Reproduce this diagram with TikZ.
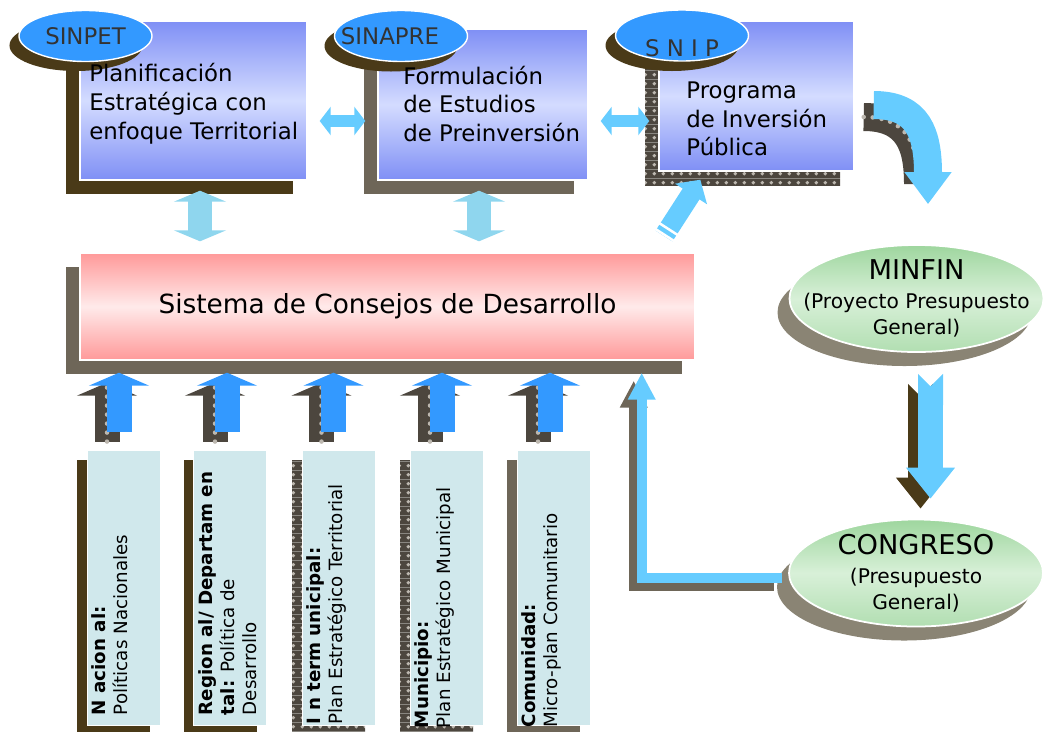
\documentclass[tikz,border=0pt]{standalone}
\usepackage{fontspec}
\setmainfont{DejaVu Sans}
\usetikzlibrary{arrows.meta,shapes.geometric,shadows,patterns,calc}

\definecolor{boxblue}{HTML}{7F8FF5}
\definecolor{boxlight}{HTML}{D4DCFF}
\definecolor{ovalblue}{HTML}{3399FF}
\definecolor{shbrown}{HTML}{4A3A18}
\definecolor{shgray}{HTML}{6E6658}
\definecolor{shdark}{HTML}{4C463E}
\definecolor{shdot}{HTML}{BDB8B0}
\definecolor{pinkedge}{HTML}{FF9999}
\definecolor{pinklight}{HTML}{FFEAEA}
\definecolor{skyarrow}{HTML}{66CCFF}
\definecolor{paleblue}{HTML}{8FD6EE}
\definecolor{upblue}{HTML}{3399FF}
\definecolor{greentop}{HTML}{9ED69E}
\definecolor{greenmid}{HTML}{D8F0D8}
\definecolor{ovalshadow}{HTML}{8A8474}
\definecolor{levelcyan}{HTML}{D0E8EC}

% dotted dark tile for the checkered shadows
\pgfdeclarepatterninherentlycolored{chkdots}
  {\pgfpointorigin}{\pgfqpoint{5pt}{5pt}}{\pgfqpoint{5pt}{5pt}}
  {\pgfsetfillcolor{shdark}\pgfpathrectangle{\pgfpointorigin}{\pgfqpoint{5pt}{5pt}}\pgfusepath{fill}
   \pgfsetfillcolor{shdot}\pgfpathcircle{\pgfqpoint{2.5pt}{2.5pt}}{1.1pt}\pgfusepath{fill}}

\begin{document}
\begin{tikzpicture}[
            x=0.2mm, y=-0.2mm,
            shadowbrown/.style={general shadow={fill=shbrown, shadow xshift=-#1, shadow yshift=-#1}},
            shadowbrown/.default=2.8mm,
            shadowgray/.style={general shadow={fill=shgray, shadow xshift=-#1, shadow yshift=-#1}},
            shadowgray/.default=2.8mm,
            shadowdots/.style={general shadow={pattern=chkdots, shadow xshift=-#1, shadow yshift=-#1}},
            shadowdots/.default=2.8mm,
            planbox/.style={
                rectangle,
                draw=white,
                line width=0.8pt,
                top color=boxblue,
                bottom color=boxblue,
                middle color=boxlight,
                inner sep=0pt
            },
            boxtext/.style={
                anchor=west,
                align=left,
                inner sep=0pt,
                font=\fontsize{13}{16.4}\selectfont
            },
            oval/.style={
                ellipse,
                draw=white,
                line width=0.8pt,
                fill=ovalblue,
                minimum width=26.6mm,
                minimum height=10.2mm,
                inner sep=0pt,
                text=black!80,
                font=\fontsize{13}{15}\selectfont
            },
            consbox/.style={
                rectangle,
                draw=white,
                line width=0.8pt,
                top color=pinkedge,
                bottom color=pinkedge,
                middle color=pinklight,
                font=\fontsize{15}{18}\selectfont
            },
            budget/.style={
                ellipse,
                draw=white,
                line width=1pt,
                top color=greentop,
                bottom color=greentop!80!white,
                middle color=greenmid,
                minimum width=50.8mm,
                minimum height=21.4mm,
                inner xsep=-6mm,
                inner ysep=-2mm,
                align=center,
                font=\fontsize{11.5}{15}\selectfont,
                general shadow={fill=ovalshadow, shadow xshift=-2.4mm, shadow yshift=-2.8mm}
            },
            levelbox/.style={
                rectangle,
                draw=white,
                line width=0.5pt,
                fill=levelcyan,
                minimum width=14.6mm,
                minimum height=55mm,
                inner sep=0pt
            },
            leveltext/.style={
                rotate=90,
                anchor=north west,
                align=left,
                inner sep=0pt,
                font=\fontsize{10.4}{12.5}\selectfont
            },
            hdouble/.style={draw=skyarrow, line width=2.4mm,
                {Triangle[length=2.2mm,width=5.6mm]}-{Triangle[length=2.2mm,width=5.6mm]}},
            vdouble/.style={draw=paleblue, line width=4.8mm,
                {Triangle[length=2.2mm,width=10.4mm]}-{Triangle[length=2.2mm,width=10.4mm]}},
            uparrow/.style={draw=upblue, line width=5mm, -{Triangle[length=2.6mm,width=12mm]}},
            dotline/.style={draw=shdark, postaction={-, draw=shdot, line width=0.9mm,
                line cap=round, dash pattern=on 0pt off 1.8mm}},
            sky/.style={draw=skyarrow}
        ]
        \useasboundingbox (0,0) rectangle (1044,731);

        % Planning boxes
        \node[planbox, shadowbrown, minimum width=45.4mm, minimum height=31.8mm] (p1) at (193.5,100.5) {};
        \node[planbox, shadowgray, minimum width=42mm, minimum height=30.2mm] (p2) at (483,104.5) {};
        \node[planbox, shadowdots, minimum width=39mm, minimum height=30mm] (p3) at (756.5,96) {};

        % Council box
        \node[consbox, shadowgray=2.7mm, minimum width=123mm, minimum height=21.4mm] (cons) at (387.5,306.5) {Sistema de Consejos de Desarrollo};

        % System ovals
        \node[oval, shadowbrown=1.9mm] (o1) at (85.5,36) {SINPET};
        \node[oval, shadowbrown=2mm] (o2) at (401,36) {\hspace*{-4.4mm}SINAPRE};
        \node[oval, shadowbrown=2mm] (o3) at (682,35.5) {\raisebox{-2.6mm}[\height][0pt]{S N I P}};

        % Box texts
        \node[boxtext] (t1) at (89,104) {Planificación\\Estratégica con\\enfoque Territorial};
        \node[boxtext] (t2) at (403,104) {Formulación\\de Estudios\\de Preinversión};
        \node[boxtext] (t3) at (686,119) {Programa\\de Inversión\\Pública};

        % Arrows between the boxes
        \draw[hdouble, shorten <=2.4mm, shorten >=2.4mm] ([yshift=-4.1mm]p1.east) -- ([yshift=-4.1mm]p1.east -| p2.west);
        \draw[hdouble, shorten <=2.4mm, shorten >=1.8mm] ([yshift=-3.3mm]p2.east) -- ([yshift=-3.3mm]p2.east -| p3.west);
        \draw[vdouble, shorten <=2mm, shorten >=2.2mm] ([xshift=1.3mm]p1.south) -- ([xshift=1.3mm]p1.south |- cons.north);
        \draw[vdouble, shorten <=2mm, shorten >=2.2mm] ([xshift=-0.8mm]p2.south) -- ([xshift=-0.8mm]p2.south |- cons.north);

        % Council to SNIP
        \coordinate (dtail) at (664,236);
        \draw[sky, line width=4mm, -{Triangle[length=3.4mm,width=7.4mm]}] (dtail) -- ([xshift=8.4mm,yshift=-1.6mm]p3.south west);
        \draw[white, line width=4.4mm, dash pattern=on 0.5mm off 0.9mm on 0.5mm off 30cm] (dtail) -- ([xshift=8.4mm,yshift=-1.6mm]p3.south west);

        % Budget ovals
        \node[budget] (minfin) at (916.5,298.5) {{\fontsize{15.5}{18}\selectfont MINFIN}\\[1.5pt](Proyecto Presupuesto\\General)};
        \node[budget] (congreso) at (916,573) {{\fontsize{15.5}{18}\selectfont CONGRESO}\\[1.5pt](Presupuesto\\General)};

        % SNIP to MINFIN
        \draw[dotline, line width=5.6mm, transform canvas={shift={(-2mm,-2.4mm)}}, shorten >=6.4mm]
            ([xshift=3.8mm,yshift=-1.8mm]p3.east) .. controls +(9mm,0) and +(0,14mm) .. ([xshift=2.3mm,yshift=8mm]minfin.north);
        \draw[sky, line width=5.6mm, -{Triangle[length=6.4mm,width=9mm]}]
            ([xshift=3.8mm,yshift=-1.8mm]p3.east) .. controls +(9mm,0) and +(0,14mm) .. ([xshift=2.3mm,yshift=8mm]minfin.north);

        % MINFIN to CONGRESO
        \draw[shbrown, line width=5mm, {Triangle Cap[reversed]}-{Triangle[length=6.2mm,width=9.4mm]}, transform canvas={shift={(-2mm,-2mm)}}, shorten <=4.2mm, shorten >=4mm]
            ([xshift=2.8mm]minfin.south) -- ([xshift=2.8mm]minfin.south |- congreso.north);
        \draw[sky, line width=5mm, {Triangle Cap[reversed]}-{Triangle[length=6.2mm,width=9.4mm]}, shorten <=4.2mm, shorten >=4mm]
            ([xshift=2.8mm]minfin.south) -- ([xshift=2.8mm]minfin.south |- congreso.north);

        % CONGRESO back to the council
        \draw[shgray, line width=2mm, -{Triangle[length=5.4mm,width=5.2mm]}, transform canvas={shift={(-1.6mm,-1.6mm)}}, shorten >=2.4mm]
            ([xshift=-1.3mm,yshift=-1mm]congreso.west) -| ([xshift=-10.8mm]cons.south east);
        \draw[sky, line width=2mm, -{Triangle[length=5.4mm,width=5.2mm]}, shorten >=2.4mm]
            ([xshift=-1.3mm,yshift=-1mm]congreso.west) -| ([xshift=-10.8mm]cons.south east);

        % Level boxes
        \node[levelbox, shadowbrown=2mm] (b1) at (123.5,587.5) {};
        \node[levelbox, shadowbrown=2mm] (b2) at (230,587.5) {};
        \node[levelbox, shadowdots=2mm] (b3) at (338.5,587.5) {};
        \node[levelbox, shadowdots=2mm] (b4) at (446.5,587.5) {};
        \node[levelbox, shadowgray=2mm] (b5) at (553.5,587.5) {};

        % Level texts
        \node[leveltext] (l1) at ([xshift=1mm,yshift=2mm]b1.south west) {\textbf{N acion al:}\\Políticas Nacionales};
        \node[leveltext] (l2) at ([xshift=1mm,yshift=2mm]b2.south west) {\textbf{Region al/ Departam en}\\\textbf{tal:} Política de\\Desarrollo};
        \node[leveltext] (l3) at ([xshift=1mm,yshift=0.2mm]b3.south west) {\textbf{I n term unicipal:}\\Plan Estratégico Territorial};
        \node[leveltext] (l4) at ([xshift=1mm,yshift=-0.6mm]b4.south west) {\textbf{Municipio:}\\Plan Estratégico Municipal};
        \node[leveltext] (l5) at ([xshift=1mm,yshift=-0.4mm]b5.south west) {\textbf{Comunidad:}\\Micro-plan Comunitario};

        % Level arrows into the council
        \draw[uparrow, dotline, transform canvas={shift={(-2.4mm,-2mm)}}, shorten >=2.4mm] ([xshift=-0.9mm,yshift=3.6mm]b1.north) -- ([xshift=-0.9mm]b1.north |- cons.south);
        \draw[uparrow, shorten >=2.4mm] ([xshift=-0.9mm,yshift=3.6mm]b1.north) -- ([xshift=-0.9mm]b1.north |- cons.south);
        \draw[uparrow, dotline, transform canvas={shift={(-2.4mm,-2mm)}}, shorten >=2.4mm] ([xshift=-0.6mm,yshift=3.6mm]b2.north) -- ([xshift=-0.6mm]b2.north |- cons.south);
        \draw[uparrow, shorten >=2.4mm] ([xshift=-0.6mm,yshift=3.6mm]b2.north) -- ([xshift=-0.6mm]b2.north |- cons.south);
        \draw[uparrow, dotline, transform canvas={shift={(-2.4mm,-2mm)}}, shorten >=2.4mm] ([xshift=-1mm,yshift=3.6mm]b3.north) -- ([xshift=-1mm]b3.north |- cons.south);
        \draw[uparrow, shorten >=2.4mm] ([xshift=-1mm,yshift=3.6mm]b3.north) -- ([xshift=-1mm]b3.north |- cons.south);
        \draw[uparrow, dotline, transform canvas={shift={(-2.4mm,-2mm)}}, shorten >=2.4mm] ([xshift=-0.9mm,yshift=3.6mm]b4.north) -- ([xshift=-0.9mm]b4.north |- cons.south);
        \draw[uparrow, shorten >=2.4mm] ([xshift=-0.9mm,yshift=3.6mm]b4.north) -- ([xshift=-0.9mm]b4.north |- cons.south);
        \draw[uparrow, dotline, transform canvas={shift={(-2.4mm,-2mm)}}, shorten >=2.4mm] ([xshift=-0.7mm,yshift=3.6mm]b5.north) -- ([xshift=-0.7mm]b5.north |- cons.south);
        \draw[uparrow, shorten >=2.4mm] ([xshift=-0.7mm,yshift=3.6mm]b5.north) -- ([xshift=-0.7mm]b5.north |- cons.south);

        \end{tikzpicture}
\end{document}
